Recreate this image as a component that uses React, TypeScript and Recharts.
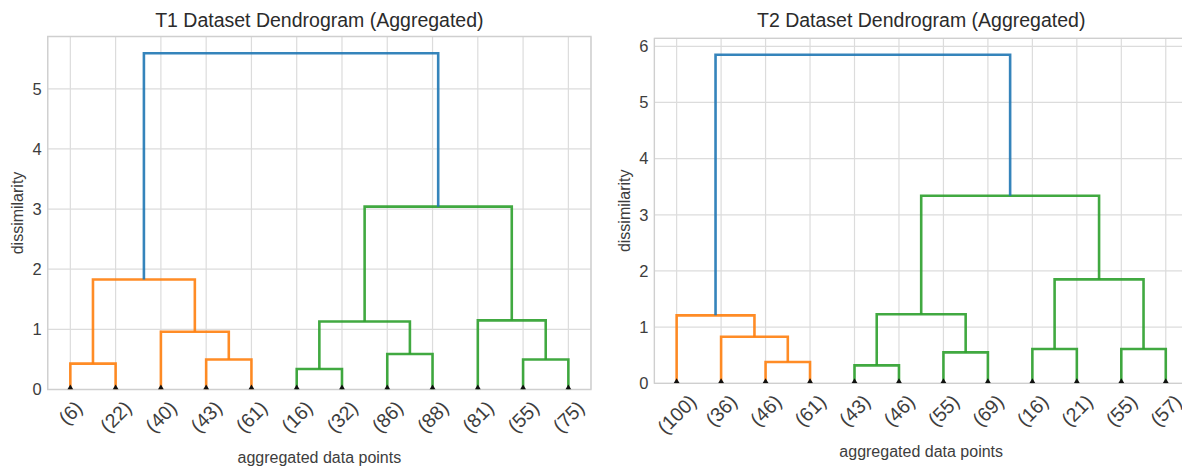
import React from "react";
import {
  ComposedChart,
  Line,
  XAxis,
  YAxis,
  CartesianGrid,
  ReferenceArea,
} from "recharts";

// leaf labels (left to right) and merges as [left id, right id]; ids >= 12 are earlier merges
const T1_LEAVES = ["(6)", "(22)", "(40)", "(43)", "(61)", "(16)", "(32)", "(86)", "(88)", "(81)", "(55)", "(75)"];
const T1_MERGES = [[0, 1], [3, 4], [2, 13], [12, 14], [5, 6], [7, 8], [16, 17], [10, 11], [9, 19], [18, 20], [15, 21]];
const T1_HEIGHTS = [0.43, 0.5, 0.96, 1.83, 0.34, 0.59, 1.13, 0.5, 1.15, 3.04, 5.59];
const T1_Y_TICKS = [0, 1, 2, 3, 4, 5];

const T2_LEAVES = ["(100)", "(36)", "(46)", "(61)", "(43)", "(46)", "(55)", "(69)", "(16)", "(21)", "(55)", "(57)"];
const T2_MERGES = [[2, 3], [1, 12], [0, 13], [4, 5], [6, 7], [15, 16], [8, 9], [10, 11], [18, 19], [17, 20], [14, 21]];
const T2_HEIGHTS = [0.38, 0.83, 1.21, 0.32, 0.55, 1.23, 0.61, 0.61, 1.85, 3.34, 5.85];
const T2_Y_TICKS = [0, 1, 2, 3, 4, 5, 6];

const FONT = '"Liberation Sans", Arial, sans-serif';
const ABOVE = "#1f77b4";
const PALETTE = ["#ff7f0e", "#2ca02c", "#d62728", "#9467bd"];

type Pt = { x: number; y: number };
type Link = { points: Pt[]; color: string };

// scipy-style layout: leaves at 5, 15, 25...; a merge sits over the mean of its children
function layoutTree(nLeaves: number, merges: number[][], heights: number[]): Link[] {
  const pos = Array.from({ length: nLeaves }, (_, i) => 5 + 10 * i);
  const hgt = Array.from({ length: nLeaves }, () => 0);
  const pts: Pt[][] = [];
  merges.forEach(([a, b], k) => {
    const h = heights[k];
    pts.push([
      { x: pos[a], y: hgt[a] },
      { x: pos[a], y: h },
      { x: pos[b], y: h },
      { x: pos[b], y: hgt[b] },
    ]);
    pos.push((pos[a] + pos[b]) / 2);
    hgt.push(h);
  });

  const threshold = 0.7 * Math.max(...heights);
  const colors: string[] = [];
  let next = 0;
  const paint = (id: number, c: string) => {
    if (id < nLeaves) return;
    const k = id - nLeaves;
    colors[k] = c;
    paint(merges[k][0], c);
    paint(merges[k][1], c);
  };
  const walk = (id: number) => {
    if (id < nLeaves) return;
    const k = id - nLeaves;
    if (heights[k] >= threshold) {
      colors[k] = ABOVE;
      walk(merges[k][0]);
      walk(merges[k][1]);
    } else {
      paint(id, PALETTE[next++ % PALETTE.length]);
    }
  };
  walk(nLeaves + merges.length - 1);

  return pts.map((p, k) => ({ points: p, color: colors[k] }));
}

function inkWidth(s: string, fs: number) {
  let w = 0;
  for (const c of s) w += c === "(" || c === ")" ? 0.333 : 0.556;
  return w * fs - 0.1 * fs;
}

const LeafTick = (props: any) => {
  const { x, y, payload, labels } = props;
  const label = labels[Math.round((payload.value - 5) / 10)];
  const fs = 19.5;
  const half = (inkWidth(label, fs) + 0.93 * fs) / (2 * Math.SQRT2);
  const cy = y + 9 + half;
  return (
    <text
      x={x}
      y={cy}
      transform={`rotate(-45 ${x} ${cy})`}
      textAnchor="middle"
      dominantBaseline="central"
      fontSize={fs}
      fontFamily={FONT}
      fill="#3d3d3d"
    >
      {label}
    </text>
  );
};

function Dendrogram({
  title,
  leaves,
  merges,
  heights,
  yTicks,
  left,
  yAxisWidth,
  marginTop,
  marginRight,
  plotBottom,
}: {
  title: string;
  leaves: string[];
  merges: number[][];
  heights: number[];
  yTicks: number[];
  left: number;
  yAxisWidth: number;
  marginTop: number;
  marginRight: number;
  plotBottom: number;
}) {
  const width = 600;
  const height = 468;
  const links = layoutTree(leaves.length, merges, heights);
  const yMax = Math.max(...heights) * 1.05;
  const leafX = leaves.map((_, i) => 5 + 10 * i);
  const leafPts = leafX.map((x) => ({ x, y: 0 }));
  const plotLeft = yAxisWidth;
  const plotWidth = width - yAxisWidth - marginRight;

  return (
    <div style={{ position: "absolute", left, top: 0, width, height }}>
      <div
        style={{
          position: "absolute",
          left: plotLeft,
          width: plotWidth,
          top: 9,
          lineHeight: "22px",
          fontSize: 19.5,
          fontFamily: FONT,
          color: "#2b2b2b",
          textAlign: "center",
          whiteSpace: "nowrap",
        }}
      >
        {title}
      </div>
      <ComposedChart
        width={width}
        height={height}
        margin={{ top: marginTop, right: marginRight, left: 0, bottom: height - plotBottom - 40 }}
      >
        <CartesianGrid stroke="#dcdcdc" strokeWidth={1.2} />
        <ReferenceArea
          x1={0}
          x2={120}
          y1={0}
          y2={yMax}
          fill="none"
          stroke="#cfcfcf"
          strokeWidth={1.3}
          ifOverflow="visible"
        />
        <XAxis
          dataKey="x"
          type="number"
          domain={[0, 120]}
          ticks={leafX}
          interval={0}
          allowDataOverflow
          axisLine={false}
          tickLine={false}
          tickSize={0}
          tickMargin={0}
          height={40}
          tick={<LeafTick labels={leaves} />}
          label={{
            content: (p: any) => {
              const vb = p.viewBox;
              return (
                <text
                  x={vb.x + vb.width / 2}
                  y={vb.y + 68}
                  textAnchor="middle"
                  dominantBaseline="central"
                  fontSize={16}
                  fontFamily={FONT}
                  fill="#3d3d3d"
                >
                  aggregated data points
                </text>
              );
            },
          }}
        />
        <YAxis
          type="number"
          domain={[0, yMax]}
          ticks={yTicks}
          allowDataOverflow
          axisLine={false}
          tickLine={false}
          tickSize={0}
          tickMargin={6}
          width={yAxisWidth}
          tick={{ fontSize: 16.5, fontFamily: FONT, fill: "#3d3d3d" }}
          label={{
            content: (p: any) => {
              const vb = p.viewBox;
              const cx = vb.x + vb.width - 30;
              const cy = vb.y + vb.height / 2;
              return (
                <text
                  x={cx}
                  y={cy}
                  transform={`rotate(-90 ${cx} ${cy})`}
                  textAnchor="middle"
                  dominantBaseline="central"
                  fontSize={16}
                  fontFamily={FONT}
                  fill="#3d3d3d"
                >
                  dissimilarity
                </text>
              );
            },
          }}
        />
        {links.map((l, i) => (
          <Line
            key={i}
            data={l.points}
            dataKey="y"
            type="linear"
            stroke={l.color}
            strokeWidth={2.6}
            strokeOpacity={0.9}
            dot={false}
            activeDot={false}
            isAnimationActive={false}
          />
        ))}
        <Line
          data={leafPts}
          dataKey="y"
          stroke="none"
          isAnimationActive={false}
          activeDot={false}
          dot={(p: any) => (
            <path
              key={p.index}
              d={`M${p.cx - 3},${p.cy} L${p.cx + 3},${p.cy} L${p.cx},${p.cy - 5} Z`}
              fill="#111"
            />
          )}
        />
      </ComposedChart>
    </div>
  );
}

export default function App() {
  return (
    <div
      style={{
        position: "absolute",
        left: 0,
        top: 0,
        width: 1182,
        height: 468,
        overflow: "hidden",
        background: "#fff",
      }}
    >
      <Dendrogram
        title="T1 Dataset Dendrogram (Aggregated)"
        leaves={T1_LEAVES}
        merges={T1_MERGES}
        heights={T1_HEIGHTS}
        yTicks={T1_Y_TICKS}
        left={0}
        yAxisWidth={47.7}
        marginTop={36.5}
        marginRight={9}
        plotBottom={389.5}
      />
      <Dendrogram
        title="T2 Dataset Dendrogram (Aggregated)"
        leaves={T2_LEAVES}
        merges={T2_MERGES}
        heights={T2_HEIGHTS}
        yTicks={T2_Y_TICKS}
        left={600}
        yAxisWidth={54.4}
        marginTop={38.3}
        marginRight={12}
        plotBottom={383.3}
      />
    </div>
  );
}
